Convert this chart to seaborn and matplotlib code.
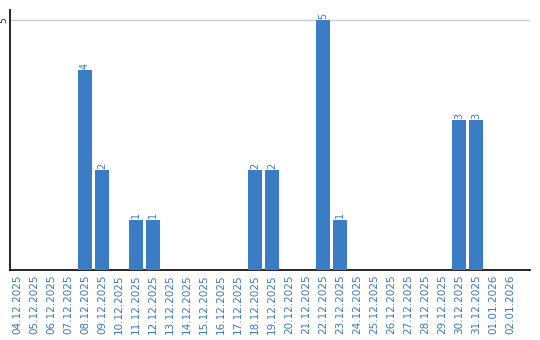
import matplotlib
matplotlib.use("Agg")
import matplotlib.pyplot as plt
import seaborn as sns
import pandas as pd

dates = ["04.12.2025", "05.12.2025", "06.12.2025", "07.12.2025", "08.12.2025",
         "09.12.2025", "10.12.2025", "11.12.2025", "12.12.2025", "13.12.2025",
         "14.12.2025", "15.12.2025", "16.12.2025", "17.12.2025", "18.12.2025",
         "19.12.2025", "20.12.2025", "21.12.2025", "22.12.2025", "23.12.2025",
         "24.12.2025", "25.12.2025", "26.12.2025", "27.12.2025", "28.12.2025",
         "29.12.2025", "30.12.2025", "31.12.2025", "01.01.2026", "02.01.2026"]
counts = [0, 0, 0, 0, 4, 2, 0, 1, 1, 0, 0, 0, 0, 0, 2, 2, 0, 0, 5, 1,
          0, 0, 0, 0, 0, 0, 3, 3, 0, 0]
yticks = [5]

bar_color = "#3b7dc4"
text_color = "#3a78bd"

sns.set_style("white")
plt.rcParams['font.family'] = ['DejaVu Sans']

df = pd.DataFrame({"date": dates, "count": counts})

fig = plt.figure(figsize=(5.4, 3.4), dpi=100)
ax = fig.add_axes([10/540, 70/340, 520/540, 260/340])

sns.barplot(data=df, x="date", y="count", color=bar_color, width=0.82,
            saturation=1, ax=ax, zorder=3, linewidth=0)

ax.set_ylim(0, 5.2)
ax.set_xlim(-7/17, 513/17)
ax.set_yticks(yticks)
ax.set_yticklabels([str(v) for v in yticks], rotation=90, fontsize=6.5,
                   va="center", color="#222222")
ax.tick_params(axis="y", length=0, pad=1)
ax.tick_params(axis="x", length=0, pad=3)
ax.set_xticks(range(len(dates)))
ax.set_xticklabels(dates, rotation=90, fontsize=7.5, color=text_color)
for y in yticks:
    ax.axhline(y, color="#cccccc", lw=1, zorder=1)

for i, v in enumerate(counts):
    if v > 0:
        ax.text(i, v + 0.03, str(v), rotation=90, ha="center", va="bottom",
                fontsize=7, color=text_color)

ax.set_xlabel("")
ax.set_ylabel("")
for s in ["top", "right"]:
    ax.spines[s].set_visible(False)
for s in ["left", "bottom"]:
    ax.spines[s].set_color("black")
    ax.spines[s].set_linewidth(1.2)

fig.savefig("out.png", dpi=100)
